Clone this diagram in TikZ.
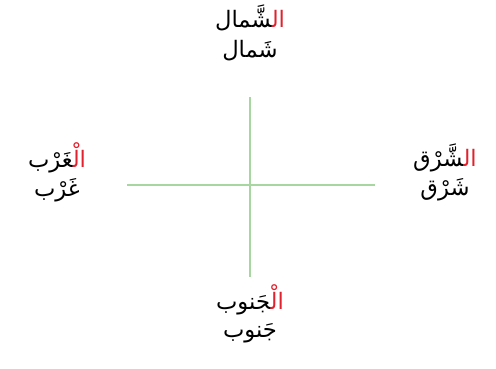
\documentclass[tikz,border=0pt]{standalone}
\usepackage{fontspec}
\usepackage{tikz}
\usetikzlibrary{positioning}
\newfontfamily\arabicfont[Script=Arabic]{DejaVu Sans}
\definecolor{axisgreen}{HTML}{A8D6A0}
\definecolor{artred}{HTML}{E0222E}
\newcommand{\zwj}{^^^^200d}
% #1 = article (red, on the right), #2 = rest of the word
\newcommand{\defword}[2]{\zwj#2{\color{artred}#1\zwj}}
\tikzset{word/.style={font=\arabicfont\fontsize{17}{20}\selectfont,inner sep=1pt},axis/.style={axisgreen,line width=1.5pt}}
\begin{document}
\begin{tikzpicture}[x=0.75pt,y=-0.75pt]
\useasboundingbox (0,0) rectangle (496,368);
% axes
\coordinate (west) at (127,185);
\coordinate (east) at (375,185);
\coordinate (north) at (250,97);
\coordinate (south) at (250,277);
\draw[axis] (west) -- (east);
\draw[axis] (north) -- (south);
% labels
\node[word] (nA) at (250,18) {\defword{ال}{شَّمال}};
\node[word] (nB) at (250,51) {شَمال};
\node[word] (wA) at (57,158) {\defword{الْ}{غَرْب}};
\node[word] (wB) at (57,190) {غَرْب};
\node[word] (eA) at (445,158) {\defword{ال}{شَّرْق}};
\node[word] (eB) at (445,190) {شَرْق};
\node[word] (sA) at (250,300) {\defword{الْ}{جَنوب}};
\node[word] (sB) at (250,333) {جَنوب};
\end{tikzpicture}
\end{document}
